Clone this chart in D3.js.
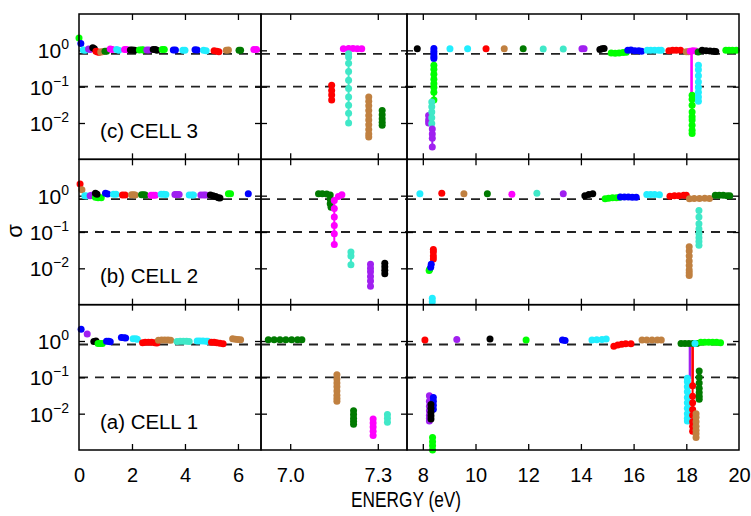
<!DOCTYPE html>
<html><head><meta charset="utf-8">
<script src="https://cdn.jsdelivr.net/npm/d3@7"></script>
<style>
body{margin:0;background:#fff}
svg{display:block}
text{font-family:"Liberation Sans",Arial,sans-serif;fill:#000}
</style>
</head><body>
<svg id="chart" width="751" height="516"></svg>
<script>
// ---------------- DATA ----------------
const bandKeys = ["green","blue","black","red","cyan","magenta","purple","brown","darkgreen","turquoise"];
const cellLabels = ["(c) CELL 3","(b) CELL 2","(a) CELL 1"];
const xTickLabels = [["0","2","4","6"],["7.0","7.3"],["8","10","12","14","16","18","20"]];
const xTickMarks = [[2,4,6],[7.0,7.3],[8,10,12,14,16,18]];
const yTickValues = [1,0.1,0.01];
const yTickExps = ["0","\u22121","\u22122"];
const refLines = [0.8,0.1];
const xLabel = "ENERGY (eV)";
const yLabel = "\u03c3";

// cell 3 (top row)
const cell3Bands = [
 {band:"green",pts:[[0,2.2]]},
 {band:"blue",pts:[[0.07,1.55]]},
 {band:"cyan",pts:[[0.16,1.02],[0.24,1.0]]},
 {band:"purple",pts:[[0.36,1.08],[0.42,1.06]]},
 {band:"black",pts:[[0.52,1.18],[0.58,1.1]]},
 {band:"red",pts:[[0.64,0.95],[0.7,0.9],[0.76,0.88]]},
 {band:"brown",pts:[[0.82,0.9],[0.88,0.92]]},
 {band:"darkgreen",pts:[[0.98,0.95],[1.04,0.95]]},
 {band:"magenta",pts:[[1.18,1.08],[1.26,1.06]]},
 {band:"cyan",pts:[[1.42,1.05],[1.5,1.0]]},
 {band:"magenta",pts:[[1.72,1.06],[1.8,1.05]]},
 {band:"black",pts:[[1.94,1.02],[2.02,1.02],[2.1,1.0]]},
 {band:"green",pts:[[2.28,1.02],[2.38,1.03],[2.44,1.02]]},
 {band:"purple",pts:[[2.56,1.02],[2.64,1.02]]},
 {band:"black",pts:[[2.8,1.06],[2.88,1.05],[2.94,1.0]]},
 {band:"green",pts:[[3.14,1.06],[3.22,1.05]]},
 {band:"blue",pts:[[3.56,1.02],[3.64,1.02]]},
 {band:"cyan",pts:[[3.92,1.0],[4.0,1.0]]},
 {band:"blue",pts:[[4.38,1.04],[4.46,1.02]]},
 {band:"cyan",pts:[[4.7,1.0],[4.8,0.98]]},
 {band:"red",pts:[[5.1,0.98],[5.2,0.95],[5.28,0.92]]},
 {band:"brown",pts:[[5.56,1.0],[5.64,1.02]]},
 {band:"darkgreen",pts:[[6.04,1.0],[6.1,1.0]]},
 {band:"magenta",pts:[[6.6,1.05],[6.7,1.05]]},
 {band:"red",pts:[[7.142,0.11],[7.142,0.079],[7.142,0.059],[7.142,0.043]]},
 {band:"magenta",pts:[[7.182,1.1],[7.2,1.12],[7.215,1.12],[7.23,1.1],[7.245,1.1]]},
 {band:"turquoise",pts:[[7.2,0.8],[7.2,0.66],[7.2,0.44],[7.2,0.26],[7.2,0.15],[7.2,0.089],[7.2,0.052],[7.2,0.031],[7.2,0.0186],[7.2,0.01]]},
 {band:"brown",pts:[[7.269,0.052],[7.269,0.04],[7.269,0.03],[7.269,0.022],[7.269,0.016],[7.269,0.012],[7.269,0.009],[7.269,0.0066],[7.269,0.005],[7.269,0.0041]]},
 {band:"darkgreen",pts:[[7.315,0.022],[7.315,0.017],[7.315,0.013],[7.315,0.0105],[7.315,0.0087]]},
 {band:"black",pts:[[7.79,1.1]]},
 {band:"blue",pts:[[8.42,1.12],[8.42,0.95],[8.42,0.8],[8.42,0.68],[8.42,0.6]]},
 {band:"green",pts:[[8.42,0.39],[8.42,0.3],[8.42,0.22],[8.42,0.16],[8.42,0.12],[8.42,0.095],[8.42,0.07],[8.42,0.043]]},
 {band:"purple",pts:[[8.22,0.016],[8.22,0.012],[8.22,0.01]]},
 {band:"turquoise",pts:[[8.34,0.038],[8.34,0.028],[8.34,0.02],[8.34,0.014],[8.34,0.0097]]},
 {band:"purple",pts:[[8.36,0.0068],[8.36,0.005],[8.36,0.0038],[8.36,0.0022]]},
 {band:"cyan",pts:[[9.03,1.1]]},
 {band:"cyan",pts:[[9.7,1.1]]},
 {band:"red",pts:[[10.4,1.1]]},
 {band:"brown",pts:[[11.09,1.1]]},
 {band:"darkgreen",pts:[[11.81,1.1]]},
 {band:"turquoise",pts:[[12.57,1.08]]},
 {band:"turquoise",pts:[[13.33,1.08]]},
 {band:"purple",pts:[[14.04,1.1],[14.12,1.1]]},
 {band:"black",pts:[[14.72,1.05],[14.8,1.1],[14.88,1.12]]},
 {band:"green",pts:[[15.15,0.85],[15.3,0.83],[15.45,0.85],[15.6,0.87],[15.72,0.88]]},
 {band:"blue",pts:[[15.78,1.0],[15.9,1.02],[16.05,0.98],[16.2,0.97],[16.3,0.95]]},
 {band:"cyan",pts:[[16.52,1.0],[16.65,1.0],[16.8,1.0],[16.95,1.0],[17.05,1.0]]},
 {band:"red",pts:[[17.34,0.98],[17.48,1.0],[17.62,1.0],[17.78,1.0]]},
 {band:"brown",pts:[[18.0,0.92],[18.08,0.92]]},
 {band:"magenta",pts:[[18.15,0.95],[18.25,0.97],[18.35,0.96]]},
 {band:"darkgreen",pts:[[18.45,0.9]]},
 {band:"black",pts:[[18.6,1.0],[18.75,0.98],[18.9,0.96],[19.05,0.95],[19.12,0.93]]},
 {band:"green",pts:[[19.5,1.0],[19.62,1.0],[19.75,1.0],[19.9,1.0]]},
 {band:"green",pts:[[18.22,0.058],[18.22,0.045],[18.22,0.031],[18.22,0.02],[18.22,0.0148],[18.22,0.012],[18.22,0.0087],[18.22,0.0063],[18.22,0.0051]]},
 {band:"cyan",pts:[[18.46,0.39],[18.46,0.29],[18.46,0.2],[18.46,0.135],[18.46,0.095],[18.46,0.07],[18.46,0.052],[18.46,0.04]]}
];
const cell3Traces = [
 {band:"magenta",pts:[[18.2,0.96],[18.2,0.06]]}
];

// cell 2 (middle row)
const cell2Bands = [
 {band:"red",pts:[[0.04,2.1]]},
 {band:"brown",pts:[[0.11,1.46]]},
 {band:"cyan",pts:[[0.22,1.0],[0.3,0.98]]},
 {band:"purple",pts:[[0.42,1.0],[0.48,1.02]]},
 {band:"green",pts:[[0.62,0.9],[0.72,0.88],[0.84,0.88]]},
 {band:"black",pts:[[0.62,1.17],[0.68,1.1]]},
 {band:"blue",pts:[[1.0,1.17],[1.08,1.12]]},
 {band:"cyan",pts:[[1.3,1.1],[1.4,1.1]]},
 {band:"red",pts:[[1.64,1.05],[1.74,1.05]]},
 {band:"brown",pts:[[1.98,1.06],[2.06,1.06],[2.12,1.05]]},
 {band:"darkgreen",pts:[[2.36,1.06],[2.44,1.06],[2.5,1.05]]},
 {band:"magenta",pts:[[2.72,1.03],[2.8,1.03],[2.88,1.02]]},
 {band:"cyan",pts:[[3.1,1.1],[3.2,1.1],[3.28,1.08]]},
 {band:"purple",pts:[[3.62,1.08],[3.7,1.08],[3.78,1.08]]},
 {band:"cyan",pts:[[4.16,1.05],[4.26,1.05],[4.32,1.05]]},
 {band:"purple",pts:[[4.6,1.05],[4.7,1.05],[4.78,1.04]]},
 {band:"black",pts:[[4.96,1.05],[5.06,1.0],[5.16,0.95],[5.26,0.88],[5.32,0.86]]},
 {band:"green",pts:[[5.64,1.13],[5.72,1.13]]},
 {band:"blue",pts:[[6.39,1.13]]},
 {band:"darkgreen",pts:[[7.097,1.13],[7.11,1.13],[7.125,1.12],[7.137,1.05],[7.137,0.8],[7.137,0.6],[7.14,0.48]]},
 {band:"magenta",pts:[[7.177,1.06],[7.165,0.95],[7.151,0.74],[7.151,0.44],[7.151,0.26],[7.151,0.15],[7.151,0.089],[7.151,0.045]]},
 {band:"turquoise",pts:[[7.208,0.028],[7.208,0.022],[7.208,0.0126]]},
 {band:"purple",pts:[[7.275,0.013],[7.275,0.01],[7.275,0.008],[7.275,0.006],[7.275,0.0045],[7.275,0.0032]]},
 {band:"black",pts:[[7.324,0.0137],[7.324,0.011],[7.324,0.0088],[7.324,0.0071]]},
 {band:"cyan",pts:[[7.89,1.13]]},
 {band:"red",pts:[[8.72,1.17]]},
 {band:"brown",pts:[[9.56,1.13]]},
 {band:"darkgreen",pts:[[10.45,1.13]]},
 {band:"magenta",pts:[[11.38,1.1]]},
 {band:"turquoise",pts:[[12.33,1.17]]},
 {band:"purple",pts:[[13.33,1.13]]},
 {band:"black",pts:[[14.15,1.0],[14.3,1.08],[14.45,1.13]]},
 {band:"green",pts:[[14.92,0.82],[15.05,0.85],[15.2,0.87],[15.35,0.88],[15.47,0.9]]},
 {band:"blue",pts:[[15.5,0.92],[15.65,0.92],[15.8,0.92],[15.95,0.91],[16.1,0.9]]},
 {band:"cyan",pts:[[16.5,1.07],[16.65,1.07],[16.8,1.07],[16.98,1.06]]},
 {band:"red",pts:[[17.38,0.97],[17.55,1.0],[17.72,1.0],[17.9,1.02],[18.0,1.03]]},
 {band:"brown",pts:[[18.12,0.82],[18.3,0.84],[18.5,0.84],[18.7,0.85],[18.88,0.84]]},
 {band:"darkgreen",pts:[[19.1,1.02],[19.25,1.02],[19.4,1.02],[19.55,1.0],[19.65,1.0]]},
 {band:"turquoise",pts:[[18.48,0.39],[18.48,0.26],[18.48,0.17],[18.48,0.12],[18.48,0.09],[18.48,0.07],[18.48,0.055],[18.48,0.043]]},
 {band:"brown",pts:[[18.11,0.039],[18.11,0.03],[18.11,0.022],[18.11,0.016],[18.11,0.012],[18.11,0.009],[18.11,0.0075],[18.11,0.0063]]},
 {band:"red",pts:[[8.4,0.033],[8.4,0.028],[8.4,0.022],[8.4,0.018]]},
 {band:"green",pts:[[8.24,0.0087],[8.26,0.0095]]},
 {band:"blue",pts:[[8.3,0.0107],[8.32,0.013]]},
 {band:"cyan",pts:[[8.36,0.0015],[8.36,0.0012]]}
];
const cell2Traces = [];

// cell 1 (bottom row)
const cell1Bands = [
 {band:"blue",pts:[[0.08,2.1]]},
 {band:"purple",pts:[[0.31,1.55]]},
 {band:"black",pts:[[0.56,0.97],[0.64,1.0]]},
 {band:"green",pts:[[0.72,0.85],[0.8,0.85],[0.88,0.86]]},
 {band:"blue",pts:[[1.04,0.98],[1.12,0.98],[1.18,0.95]]},
 {band:"blue",pts:[[1.6,1.25],[1.7,1.22],[1.76,1.2]]},
 {band:"cyan",pts:[[2.04,1.15],[2.14,1.15],[2.2,1.12]]},
 {band:"red",pts:[[2.4,0.9],[2.5,0.93],[2.62,0.93],[2.74,0.92],[2.86,0.9],[2.94,0.88]]},
 {band:"brown",pts:[[3.0,1.05],[3.12,1.06],[3.24,1.06],[3.36,1.06],[3.46,1.05]]},
 {band:"turquoise",pts:[[3.7,0.97],[3.82,0.98],[3.94,0.98],[4.06,0.98],[4.16,0.97]]},
 {band:"cyan",pts:[[4.46,1.0],[4.56,1.0],[4.68,1.0],[4.8,0.99],[4.86,0.98]]},
 {band:"red",pts:[[5.0,0.92],[5.1,0.92],[5.2,0.9],[5.32,0.87],[5.44,0.84]]},
 {band:"brown",pts:[[5.8,1.15],[5.9,1.12],[6.0,1.1],[6.1,1.08]]},
 {band:"darkgreen",pts:[[6.925,1.08],[6.945,1.08],[6.965,1.08],[6.985,1.08],[7.005,1.08],[7.025,1.08],[7.04,1.08]]},
 {band:"brown",pts:[[7.16,0.117],[7.16,0.09],[7.16,0.07],[7.16,0.055],[7.16,0.042],[7.16,0.032],[7.16,0.026],[7.16,0.022]]},
 {band:"darkgreen",pts:[[7.217,0.012],[7.217,0.0095],[7.217,0.0075],[7.217,0.0062],[7.217,0.0051]]},
 {band:"magenta",pts:[[7.284,0.0071],[7.284,0.0055],[7.284,0.0043],[7.284,0.0033],[7.284,0.0025]]},
 {band:"turquoise",pts:[[7.333,0.0095],[7.333,0.0075],[7.333,0.0058]]},
 {band:"red",pts:[[8.08,1.06]]},
 {band:"purple",pts:[[9.29,1.1]]},
 {band:"black",pts:[[10.55,1.13]]},
 {band:"green",pts:[[11.92,1.06]]},
 {band:"blue",pts:[[13.3,1.06],[13.4,1.04]]},
 {band:"cyan",pts:[[14.42,1.06],[14.6,1.08],[14.8,1.1],[14.96,1.13]]},
 {band:"red",pts:[[15.25,0.72],[15.4,0.78],[15.55,0.82],[15.7,0.84],[15.9,0.84]]},
 {band:"brown",pts:[[16.32,1.06],[16.5,1.06],[16.7,1.06],[16.9,1.06],[17.05,1.06]]},
 {band:"darkgreen",pts:[[17.8,0.86],[17.95,0.86],[18.1,0.86],[18.25,0.86],[18.4,0.86]]},
 {band:"green",pts:[[18.55,0.92],[18.7,0.93],[18.85,0.93],[19.0,0.92],[19.15,0.92],[19.3,0.9]]},
 {band:"cyan",pts:[[18.33,0.86]]},
 {band:"cyan",pts:[[18.04,0.095],[18.04,0.075],[18.04,0.055],[18.04,0.04],[18.04,0.028],[18.04,0.02],[18.04,0.014],[18.04,0.01],[18.04,0.0075],[18.04,0.0063]]},
 {band:"red",pts:[[18.24,0.059],[18.24,0.03],[18.24,0.02],[18.24,0.013],[18.24,0.009],[18.24,0.006],[18.24,0.0045],[18.24,0.0033]]},
 {band:"brown",pts:[[18.37,0.01],[18.37,0.008],[18.37,0.006],[18.37,0.0045],[18.37,0.0035],[18.37,0.0028],[18.37,0.0022]]},
 {band:"darkgreen",pts:[[18.49,0.15],[18.49,0.1],[18.49,0.07],[18.49,0.05],[18.49,0.038],[18.49,0.03],[18.49,0.025]]},
 {band:"purple",pts:[[8.25,0.031],[8.25,0.022],[8.25,0.016],[8.25,0.012],[8.25,0.009],[8.25,0.0075],[8.25,0.0063]]},
 {band:"blue",pts:[[8.4,0.028],[8.4,0.022],[8.4,0.017],[8.4,0.0133]]},
 {band:"black",pts:[[8.31,0.018],[8.31,0.014],[8.31,0.011],[8.31,0.0088],[8.31,0.0071]]},
 {band:"green",pts:[[8.37,0.0022],[8.37,0.0017],[8.37,0.0013],[8.37,0.001]]}
];
const cell1Traces = [
 {band:"purple",pts:[[18.14,0.86],[18.14,0.09]]},
 {band:"red",pts:[[18.24,0.86],[18.24,0.059]]}
];

// ---------------- LAYOUT / STYLE ----------------
const palette = ["#00ff00","#0000ff","#000000","#ff0000","#22eeff","#ff00ff","#a020f0","#c08040","#007a00","#40e8c8"];
const color = d3.scaleOrdinal().domain(bandKeys).range(palette);
const colDomains = [[0,6.87],[6.9,7.4],[7.4,20]];
const colRanges = [[79,261],[261,407],[407,739]];
const plotTop = 14, plotBottom = 450;
const rowH = (plotBottom - plotTop) / 3;
const tickLen = 6, dotR = 3.5;

const rows = [
 {bands:cell3Bands, traces:cell3Traces},
 {bands:cell2Bands, traces:cell2Traces},
 {bands:cell1Bands, traces:cell1Traces}
];

const svg = d3.select("#chart");

rows.forEach((row, ri) => {
  const y0 = plotTop + ri*rowH, y1 = y0 + rowH;
  const y = d3.scaleLog().domain([1e-3, 10]).range([y1, y0]);
  colDomains.forEach((dom, ci) => {
    const x = d3.scaleLinear().domain(dom).range(colRanges[ci]);
    const g = svg.append("g");
    refLines.forEach(v => {
      g.append("line").attr("x1", x.range()[0]).attr("x2", x.range()[1])
        .attr("y1", y(v)).attr("y2", y(v))
        .attr("stroke", "#222").attr("stroke-width", 1.8).attr("stroke-dasharray", "9,7");
    });
    const bottomAxis = d3.axisBottom(x).tickValues(xTickMarks[ci]).tickSize(-tickLen).tickFormat("");
    const topAxis = d3.axisTop(x).tickValues(xTickMarks[ci]).tickSize(-tickLen).tickFormat("");
    const leftAxis = d3.axisLeft(y).tickValues(yTickValues).tickSize(-tickLen).tickFormat("");
    const rightAxis = d3.axisRight(y).tickValues(yTickValues).tickSize(-tickLen).tickFormat("");
    [[bottomAxis,`translate(0,${y1})`],[topAxis,`translate(0,${y0})`],
     [leftAxis,`translate(${x.range()[0]},0)`],[rightAxis,`translate(${x.range()[1]},0)`]].forEach(([ax,tr]) => {
      const a = g.append("g").attr("transform", tr).call(ax);
      a.select(".domain").remove();
      a.selectAll("line").attr("stroke","#000").attr("stroke-width",1.3);
    });
    const inDom = p => p[0] >= dom[0] && p[0] <= dom[1];
    const line = d3.line().x(d => x(d[0])).y(d => y(d[1]));
    row.traces.filter(t => t.pts.every(inDom)).forEach(t => {
      g.append("path").attr("d", line(t.pts)).attr("fill","none")
        .attr("stroke", color(t.band)).attr("stroke-width", 2.6);
    });
    row.bands.filter(b => b.pts.every(inDom)).forEach(b => {
      if (b.pts.length > 1) {
        g.append("path").attr("d", line(b.pts)).attr("fill","none")
          .attr("stroke", color(b.band)).attr("stroke-width", 2);
      }
      g.selectAll(null).data(b.pts).join("circle")
        .attr("cx", d => x(d[0])).attr("cy", d => y(d[1])).attr("r", dotR)
        .attr("fill", color(b.band));
    });
    g.append("rect").attr("x", x.range()[0]).attr("y", y0)
      .attr("width", x.range()[1]-x.range()[0]).attr("height", rowH)
      .attr("fill","none").attr("stroke","#000").attr("stroke-width",1.5);
    if (ri === 2) {
      const vals = xTickLabels[ci].map(Number);
      const lab = d3.axisBottom(x).tickValues(vals).tickSize(0).tickPadding(18)
        .tickFormat((d,i) => xTickLabels[ci][i]);
      const a = g.append("g").attr("transform",`translate(0,${y1})`).call(lab);
      a.select(".domain").remove();
      a.selectAll("text").attr("font-size",20).attr("font-family","Liberation Sans, Arial, sans-serif").attr("fill","#000");
    }
  });
  yTickValues.forEach((v, i) => {
    const t = svg.append("text").attr("x", 69).attr("y", y(v) + 8)
      .attr("text-anchor","end").attr("font-size", 21);
    t.append("tspan").text("10");
    t.append("tspan").attr("dy", -9).attr("font-size", 14).text(yTickExps[i]);
  });
  svg.append("text").attr("x", 100).attr("y", y0 + 124).attr("font-size", 20)
    .attr("textLength", 98).attr("lengthAdjust","spacingAndGlyphs").text(cellLabels[ri]);
});

svg.append("text").attr("x", 406).attr("y", 507).attr("text-anchor","middle")
  .attr("font-size", 22).attr("textLength", 110).attr("lengthAdjust","spacingAndGlyphs").text(xLabel);
svg.append("text").attr("transform","translate(22,231) rotate(-90)").attr("text-anchor","middle")
  .attr("font-size", 22).text(yLabel);
</script>
</body></html>
